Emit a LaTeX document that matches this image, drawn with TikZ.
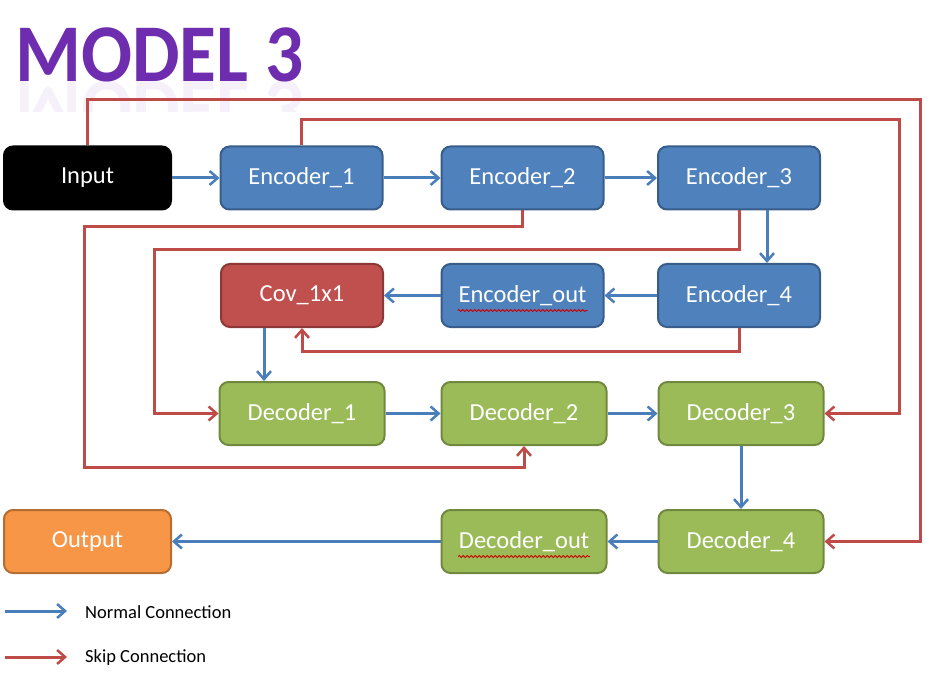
\documentclass[tikz,border=0pt]{standalone}
\usepackage{fontspec}
\setmainfont{Carlito}
\usetikzlibrary{arrows.meta,decorations.pathmorphing}
\definecolor{bfill}{HTML}{4F81BD}\definecolor{bdraw}{HTML}{385D8A}
\definecolor{gfill}{HTML}{9BBB59}\definecolor{gdraw}{HTML}{71893F}
\definecolor{rfill}{HTML}{C0504D}\definecolor{rdraw}{HTML}{8C3836}
\definecolor{ofill}{HTML}{F79646}\definecolor{odraw}{HTML}{B66D31}
\definecolor{nline}{HTML}{4A7EBB}\definecolor{sline}{HTML}{BE4B48}
\definecolor{titlec}{HTML}{6E2DAE}
\tikzset{
 box/.style={rounded corners=9pt,line width=2pt,minimum width=162pt,minimum height=63pt,text=white,font=\fontsize{24.5}{27}\selectfont,inner sep=0pt},
 enc/.style={box,fill=bfill,draw=bdraw},
 dec/.style={box,fill=gfill,draw=gdraw,minimum width=165pt},
 normal/.style={draw=nline,line width=3pt,-{Straight Barb[length=8pt,width=14pt,line width=2.5pt]}},
 skipc/.style={draw=sline,line width=3pt,-{Straight Barb[length=8pt,width=14pt,line width=2.5pt]}},
 legtext/.style={anchor=west,font=\fontsize{18.5}{21}\selectfont,inner sep=0pt},
 squig/.style={draw=red!80!black,line width=0.8pt,decorate,decoration={snake,amplitude=1pt,segment length=4pt}}
}
\newcommand{\lowr}[1]{\raisebox{-2pt}{#1}}
\begin{document}
\begin{tikzpicture}[x=1pt,y=-1pt]
\useasboundingbox (0,0) rectangle (931,676);
% title
\node[anchor=west,inner sep=0pt,text=titlec,font=\bfseries\fontsize{82}{82}\selectfont,xscale=0.92] (title) at (15,55) {MODEL 3};
\begin{scope}
\clip (0,81) rectangle (320,112);
\node[anchor=west,inner sep=0pt,text=titlec,opacity=0.07,font=\bfseries\fontsize{82}{82}\selectfont,xscale=0.92,yscale=-1] (refl) at (15,108) {MODEL 3};
\end{scope}
% nodes
\node[box,fill=black,draw=black,minimum width=167pt] (inp) at (87.5,178) {\lowr{Input}};
\node[enc] (enc1) at (301.5,178) {\lowr{Encoder\_1}};
\node[enc] (enc2) at (522.5,178) {\lowr{Encoder\_2}};
\node[enc] (enc3) at (739,178) {\lowr{Encoder\_3}};
\node[box,fill=rfill,draw=rdraw] (cov) at (302,295.5) {\lowr{Cov\_1x1}};
\node[enc] (encout) at (522.5,295.5) {\lowr{Encoder\_out}};
\node[enc] (enc4) at (739,295.5) {\lowr{Encoder\_4}};
\node[dec] (dec1) at (302,413.5) {\lowr{Decoder\_1}};
\node[dec] (dec2) at (524,413.5) {\lowr{Decoder\_2}};
\node[dec] (dec3) at (741,413.5) {\lowr{Decoder\_3}};
\node[box,fill=ofill,draw=odraw,minimum width=167pt] (out) at (87.5,541.5) {\lowr{Output}};
\node[dec] (decout) at (524,541.5) {\lowr{Decoder\_out}};
\node[dec] (dec4) at (741,541.5) {\lowr{Decoder\_4}};
% spell-check squiggles
\draw[squig] ([xshift=-65pt,yshift=-15pt]encout.center) -- ([xshift=65pt,yshift=-15pt]encout.center);
\draw[squig] ([xshift=-66pt,yshift=-15pt]decout.center) -- ([xshift=66pt,yshift=-15pt]decout.center);
% normal connections
\draw[normal] (inp) -- (enc1);
\draw[normal] (enc1) -- (enc2);
\draw[normal] (enc2) -- (enc3);
\draw[normal] ([xshift=28pt]enc3.south) -- ([xshift=28pt]enc4.north);
\draw[normal] (enc4) -- (encout);
\draw[normal] (encout) -- (cov);
\draw[normal] ([xshift=-38pt]cov.south) -- ([xshift=-38pt]dec1.north);
\draw[normal] (dec1) -- (dec2);
\draw[normal] (dec2) -- (dec3);
\draw[normal] (dec3) -- (dec4);
\draw[normal] (dec4) -- (decout);
\draw[normal] (decout) -- (out);
% skip connections
\coordinate (k1) at (920,100);
\coordinate (k2) at (899,120);
\coordinate (k3a) at (84,227);
\coordinate (k3b) at (84,467);
\coordinate (k4) at (154,250);
\coordinate (k5) at (302,351);
\draw[skipc] (inp.north) |- (k1) |- (dec4.east);
\draw[skipc] (enc1.north) |- (k2) |- (dec3.east);
\draw[skipc] (enc2.south) |- (k3a) -- (k3b) -| (dec2.south);
\draw[skipc] (enc3.south) |- (k4) |- (dec1.west);
\draw[skipc] (enc4.south) |- (k5) -- (cov.south);
% legend
\coordinate (l1a) at (5,611); \coordinate (l1b) at (67,611);
\coordinate (l2a) at (5,657); \coordinate (l2b) at (67,657);
\draw[normal] (l1a) -- (l1b);
\draw[skipc] (l2a) -- (l2b);
\node[legtext] (lt1) at (85,612) {Normal Connection};
\node[legtext] (lt2) at (85,658) {Skip Connection};
\end{tikzpicture}
\end{document}
